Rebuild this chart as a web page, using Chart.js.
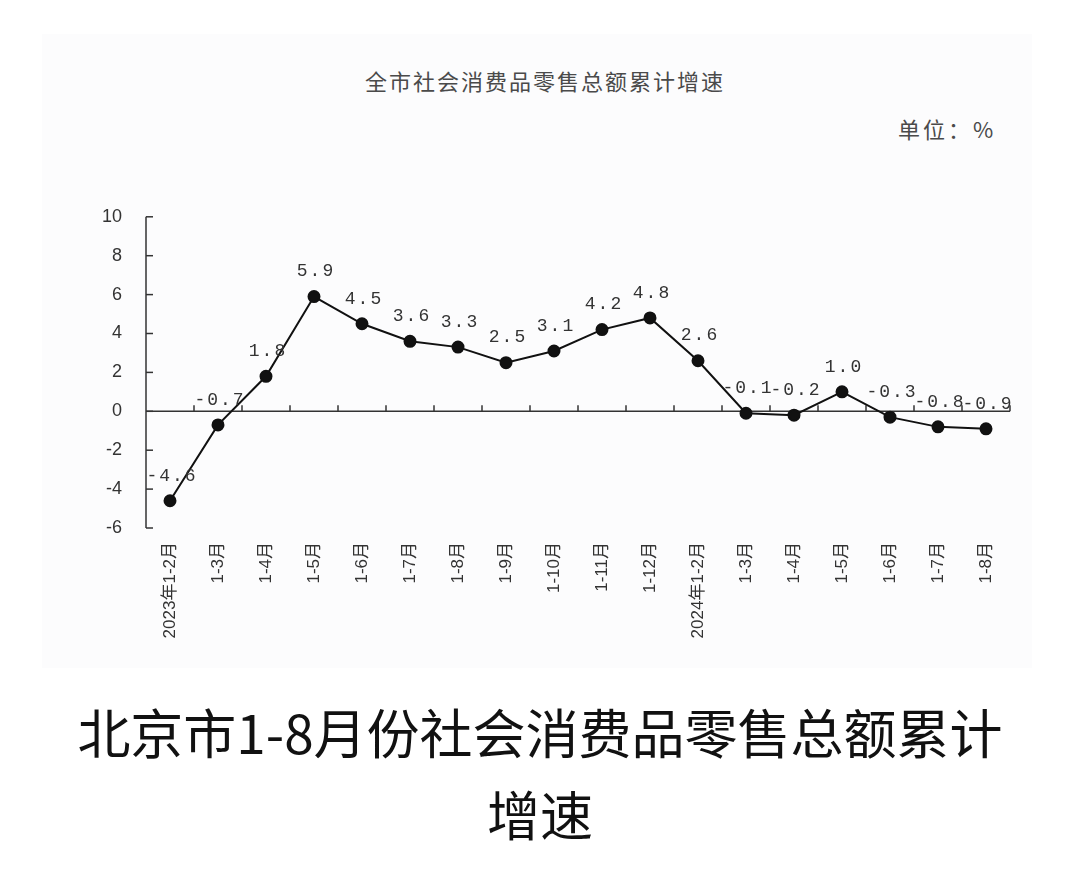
<!DOCTYPE html>
<html>
<head>
<meta charset="utf-8">
<script src="https://cdn.jsdelivr.net/npm/chart.js@4/dist/chart.umd.min.js"></script>
<style>
  html, body { margin: 0; padding: 0; background: #ffffff; width: 1080px; height: 885px; overflow: hidden; }
  #panel { position: absolute; left: 42px; top: 34px; width: 990px; height: 634px; background: #fcfcfd; }
  #title { position: absolute; left: 0; width: 1080px; top: 64px; text-align: center; padding-left: 10px; box-sizing: border-box;
           font-family: "Noto Sans CJK SC", sans-serif; font-size: 22px; color: #4a4a4a; letter-spacing: 2px; }
  #unit { position: absolute; left: 898px; top: 112px; font-family: "Noto Sans CJK SC", sans-serif; font-size: 22px; color: #4a4a4a; letter-spacing: 3px; }
  #wrap { position: absolute; left: 60px; top: 190px; width: 970px; height: 480px; }
  #caption { position: absolute; left: 0; top: 690px; width: 1080px; text-align: center;
             font-family: "Noto Sans CJK SC", sans-serif; font-size: 53px; line-height: 82px; color: #111; }
</style>
</head>
<body>
<div id="panel"></div>
<div id="title">全市社会消费品零售总额累计增速</div>
<div id="unit">单位：%</div>
<div id="wrap"><canvas id="c"></canvas></div>
<div id="caption">北京市1-8月份社会消费品零售总额累计<br>增速</div>
<script>
const categories = ["2023年1-2月","1-3月","1-4月","1-5月","1-6月","1-7月","1-8月","1-9月","1-10月","1-11月","1-12月",
                    "2024年1-2月","1-3月","1-4月","1-5月","1-6月","1-7月","1-8月"];
const growth = [-4.6, -0.7, 1.8, 5.9, 4.5, 3.6, 3.3, 2.5, 3.1, 4.2, 4.8, 2.6, -0.1, -0.2, 1.0, -0.3, -0.8, -0.9];
const yTicks = [10, 8, 6, 4, 2, 0, -2, -4, -6];
const Y_MIN = -6, Y_MAX = 10;

const decor = {
  id: 'decor',
  beforeDatasetsDraw(chart) {
    const { ctx, chartArea: a, scales: { x, y } } = chart;
    ctx.save();
    ctx.strokeStyle = '#333';
    ctx.lineWidth = 1.5;
    const line = (x1, y1, x2, y2) => { ctx.beginPath(); ctx.moveTo(x1, y1); ctx.lineTo(x2, y2); ctx.stroke(); };
    line(a.left, y.getPixelForValue(Y_MAX), a.left, y.getPixelForValue(Y_MIN));
    y.ticks.forEach(t => { const py = y.getPixelForValue(t.value); line(a.left, py, a.left + 7, py); });
    const z = y.getPixelForValue(0);
    line(a.left, z, a.right, z);
    const half = (x.getPixelForValue(1) - x.getPixelForValue(0)) / 2;
    for (let i = 0; i < categories.length; i++) {
      const px = x.getPixelForValue(i) + half;
      line(px, z, px, z - 6);
    }
    ctx.restore();
  },
  afterDatasetsDraw(chart) {
    const { ctx } = chart;
    const meta = chart.getDatasetMeta(0);
    ctx.save();
    ctx.fillStyle = '#333';
    ctx.font = '18px "Liberation Mono", monospace';
    ctx.textAlign = 'center';
    ctx.textBaseline = 'bottom';
    try { ctx.letterSpacing = '2px'; } catch (e) {}
    meta.data.forEach((pt, i) => {
      ctx.fillText(growth[i].toFixed(1), pt.x + 2, pt.y - 16);
    });
    ctx.restore();
  }
};

new Chart(document.getElementById('c'), {
  type: 'line',
  data: {
    labels: categories,
    datasets: [{
      data: growth,
      borderColor: '#111',
      borderWidth: 2,
      backgroundColor: '#111',
      pointBackgroundColor: '#111',
      pointBorderColor: '#111',
      pointRadius: 5.5,
      tension: 0,
      fill: false
    }]
  },
  options: {
    responsive: true,
    maintainAspectRatio: false,
    animation: false,
    layout: { padding: { top: 26, right: 20, left: 0, bottom: 0 } },
    plugins: { legend: { display: false }, tooltip: { enabled: false } },
    scales: {
      x: {
        type: 'category',
        offset: true,
        grid: { display: false },
        border: { display: false },
        ticks: {
          autoSkip: false, minRotation: 90, maxRotation: 90, padding: 6,
          color: '#333', font: { family: '"Liberation Sans", "Noto Sans CJK SC", sans-serif', size: 17 }
        },
        afterFit(s) { s.height = 142; }
      },
      y: {
        min: Y_MIN, max: Y_MAX,
        afterBuildTicks(s) { s.ticks = yTicks.map(v => ({ value: v })); },
        grid: { display: false },
        border: { display: false },
        ticks: {
          padding: 16, color: '#333',
          font: { family: '"Liberation Sans", sans-serif', size: 18 }
        },
        afterFit(s) { s.width = 86; }
      }
    }
  },
  plugins: [decor]
});
</script>
</body>
</html>
